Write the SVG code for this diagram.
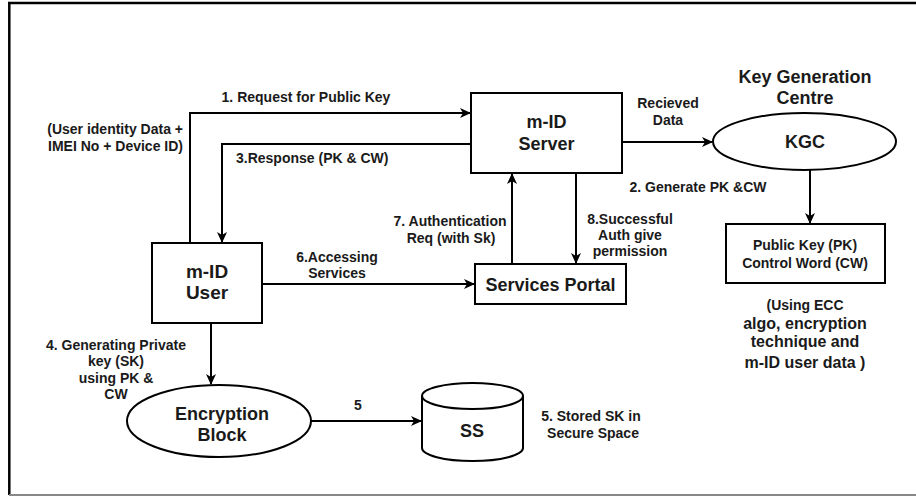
<svg xmlns="http://www.w3.org/2000/svg" width="916" height="496" viewBox="0 0 916 496">
<style>
text{font-family:"Liberation Sans",Arial,sans-serif;font-weight:bold;fill:#1a1a1a}
.l{font-size:14px}
.m{font-size:16px}
.b{font-size:18px}
.c{text-anchor:middle}
.r{text-anchor:end}
.shape{fill:#fff;stroke:#000;stroke-width:2}
.edge{fill:none;stroke:#000;stroke-width:2}
</style>
<defs>
<marker id="ah" markerWidth="12" markerHeight="10" refX="10" refY="5" orient="auto" markerUnits="userSpaceOnUse">
<path d="M0,0 L11,5 L0,10 L3,5 z" fill="#000"/>
</marker>
</defs>
<rect width="916" height="496" fill="#fff"/>
<g id="border">
<line x1="8" y1="3" x2="916" y2="3" stroke="#000" stroke-width="2.5"/>
<line x1="9.3" y1="2" x2="9.3" y2="495" stroke="#000" stroke-width="2.5"/>
<line x1="9" y1="495" x2="916" y2="495" stroke="#888" stroke-width="2"/>
</g>
<g id="connectors">
<path class="edge" d="M190,243 V113 H470" marker-end="url(#ah)"/>
<path class="edge" d="M471,144 H222 V242" marker-end="url(#ah)"/>
<path class="edge" d="M622,142 H712" marker-end="url(#ah)"/>
<path class="edge" d="M810,170 V223" marker-end="url(#ah)"/>
<path class="edge" d="M512,264 V174" marker-end="url(#ah)"/>
<path class="edge" d="M576,173 V263" marker-end="url(#ah)"/>
<path class="edge" d="M262,284 H474" marker-end="url(#ah)"/>
<path class="edge" d="M211,323 V384" marker-end="url(#ah)"/>
<path class="edge" d="M311,421 H421" marker-end="url(#ah)"/>
</g>
<g id="labels">
<text class="l c" x="306" y="102">1. Request for Public Key</text>
<text class="l r" x="183" y="134">(User identity Data +</text>
<text class="l r" x="183" y="151">IMEI No + Device ID)</text>
<text class="l" x="236" y="163">3.Response (PK &amp; CW)</text>
<text class="l c" x="668" y="108">Recieved</text>
<text class="l c" x="668" y="125">Data</text>
<text class="l c" x="698" y="192">2. Generate PK &amp;CW</text>
<text class="l c" x="450" y="226">7. Authentication</text>
<text class="l c" x="451" y="243">Req (with Sk)</text>
<text class="l c" x="630" y="224">8.Successful</text>
<text class="l c" x="630" y="240">Auth give</text>
<text class="l c" x="630" y="256">permission</text>
<text class="l c" x="337" y="262">6.Accessing</text>
<text class="l c" x="337" y="278">Services</text>
<text class="l c" x="116" y="350">4. Generating Private</text>
<text class="l c" x="116" y="366">key (SK)</text>
<text class="l c" x="116" y="383">using PK &amp;</text>
<text class="l c" x="116" y="399">CW</text>
<text class="l c" x="358" y="410">5</text>
<text class="l c" x="591" y="421">5. Stored SK in</text>
<text class="l c" x="593" y="438">Secure Space</text>
<text class="b c" x="805" y="83">Key Generation</text>
<text class="b c" x="805" y="104">Centre</text>
<text class="l c" x="805" y="310">(Using ECC</text>
<text class="m c" x="805" y="329">algo, encryption</text>
<text class="m c" x="805" y="347">technique and</text>
<text class="m c" x="805" y="368">m-ID user data )</text>
</g>
<g id="server">
<rect class="shape" x="471" y="93" width="151" height="80"/>
<text class="b c" x="546.5" y="128">m-ID</text>
<text class="b c" x="546.5" y="150">Server</text>
</g>
<g id="kgc">
<ellipse class="shape" cx="804.5" cy="141.5" rx="91.5" ry="28.5"/>
<text class="b c" x="805" y="148">KGC</text>
</g>
<g id="pkcw">
<rect class="shape" x="726" y="224" width="159" height="59"/>
<text class="l c" x="805" y="250">Public Key (PK)</text>
<text class="l c" x="805" y="268">Control Word (CW)</text>
</g>
<g id="portal">
<rect class="shape" x="475" y="264" width="151" height="40"/>
<text class="b c" x="550.5" y="291">Services Portal</text>
</g>
<g id="user">
<rect class="shape" x="152" y="243" width="110" height="80"/>
<text class="b c" x="207" y="278" style="font-size:19px">m-ID</text>
<text class="b c" x="207" y="299" style="font-size:19px">User</text>
</g>
<g id="encryption">
<ellipse class="shape" cx="219" cy="421" rx="92" ry="36"/>
<text class="b c" x="222" y="420">Encryption</text>
<text class="b c" x="222" y="441">Block</text>
</g>
<g id="ss">
<path class="shape" d="M422,396 V448 A50.5,13 0 0 0 523,448 V396 A50.5,13 0 0 0 422,396 Z"/>
<path class="edge" d="M422,396 A50.5,13 0 0 0 523,396"/>
<text class="b c" x="472" y="437">SS</text>
</g>
</svg>
